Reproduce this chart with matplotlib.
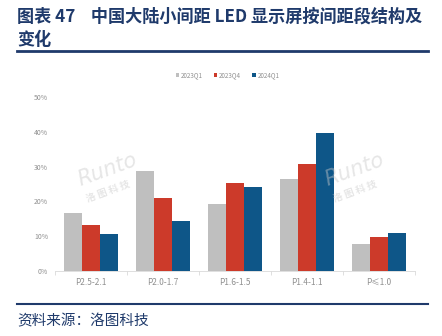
import numpy as np
import matplotlib.pyplot as plt
from matplotlib.lines import Line2D

plt.rcParams['font.family'] = ['Noto Sans CJK SC', 'DejaVu Sans']

# data (share of each pitch segment)
categories = ['P2.5-2.1', 'P2.0-1.7', 'P1.6-1.5', 'P1.4-1.1', 'P≤1.0']
series_names = ['2023Q1', '2023Q4', '2024Q1']
q1_2023 = [16.8, 28.8, 19.3, 26.5, 7.8]
q4_2023 = [13.1, 20.9, 25.2, 30.7, 9.8]
q1_2024 = [10.5, 14.4, 24.2, 39.7, 11.0]
colors = ['#BFBFBF', '#CC3A2A', '#0E5688']

title_color = '#1F3A6B'

fig = plt.figure(figsize=(4.42, 3.36), dpi=100)

# title + rule
fig.text(17/442, 1-17/336, '图表 47    中国大陆小间距 LED 显示屏按间距段结构及',
         fontsize=12.3, fontweight='bold', color=title_color, va='center', ha='left')
fig.text(17/442, 1-40/336, '变化', fontsize=12.3, fontweight='bold',
         color=title_color, va='center', ha='left')
fig.add_artist(Line2D([17/442, 428/442], [1-51/336, 1-51/336], color=title_color, lw=2))

# footer
fig.add_artist(Line2D([17/442, 428/442], [1-304/336, 1-304/336], color=title_color, lw=1.5))
fig.text(17/442, 1-321/336, '资料来源：洛图科技', fontsize=10.5, style='italic',
         color=title_color, va='center', ha='left')

ax = fig.add_axes([55/442, 1-271/336, 360/442, 174/336])
x = np.arange(len(categories))
w = 0.247
for i, (vals, c, name) in enumerate(zip([q1_2023, q4_2023, q1_2024], colors, series_names)):
    ax.bar(x + (i-1)*w, vals, w, color=c, label=name, zorder=2)

ax.set_xlim(-0.5, len(categories)-0.5)
ax.set_ylim(0, 50)
ax.set_yticks(range(0, 51, 10))
ax.set_yticklabels([f'{v}%' for v in range(0, 51, 10)])
ax.set_xticks(x)
ax.set_xticklabels(categories)
ax.set_xticks(np.arange(-0.5, len(categories), 1), minor=True)
ax.tick_params(axis='y', length=0, labelsize=5, labelcolor='#909090', pad=5)
ax.tick_params(axis='x', which='major', length=0, labelsize=6, labelcolor='#909090', pad=5)
ax.tick_params(axis='x', which='minor', length=3, color='#D9D9D9', width=0.6)
for s in ['top', 'right', 'left']:
    ax.spines[s].set_visible(False)
ax.spines['bottom'].set_color('#D9D9D9')
ax.spines['bottom'].set_linewidth(0.6)

# watermarks
for (wx, wy) in [(107/442, 1-170/336), (354/442, 1-170/336)]:
    fig.text(wx, wy, 'Runto', fontsize=15, style='italic', color='#C8C8C8',
             rotation=20, ha='center', va='center', alpha=0.45, family='DejaVu Sans',
             fontweight='light', zorder=5)
    fig.text(wx + 1/442, wy - 21/336, '洛 图 科 技', fontsize=7, fontweight='bold',
             color='#C8C8C8', rotation=20, ha='center', va='center', alpha=0.45, zorder=5)

fig.legend(loc='center', bbox_to_anchor=(0.515, 1-75/336), ncol=3, frameon=False,
           fontsize=4.5, handlelength=0.5, handleheight=0.5,
           columnspacing=1.8, handletextpad=0.3, labelcolor='#909090')

fig.savefig('out.png', dpi=100)
